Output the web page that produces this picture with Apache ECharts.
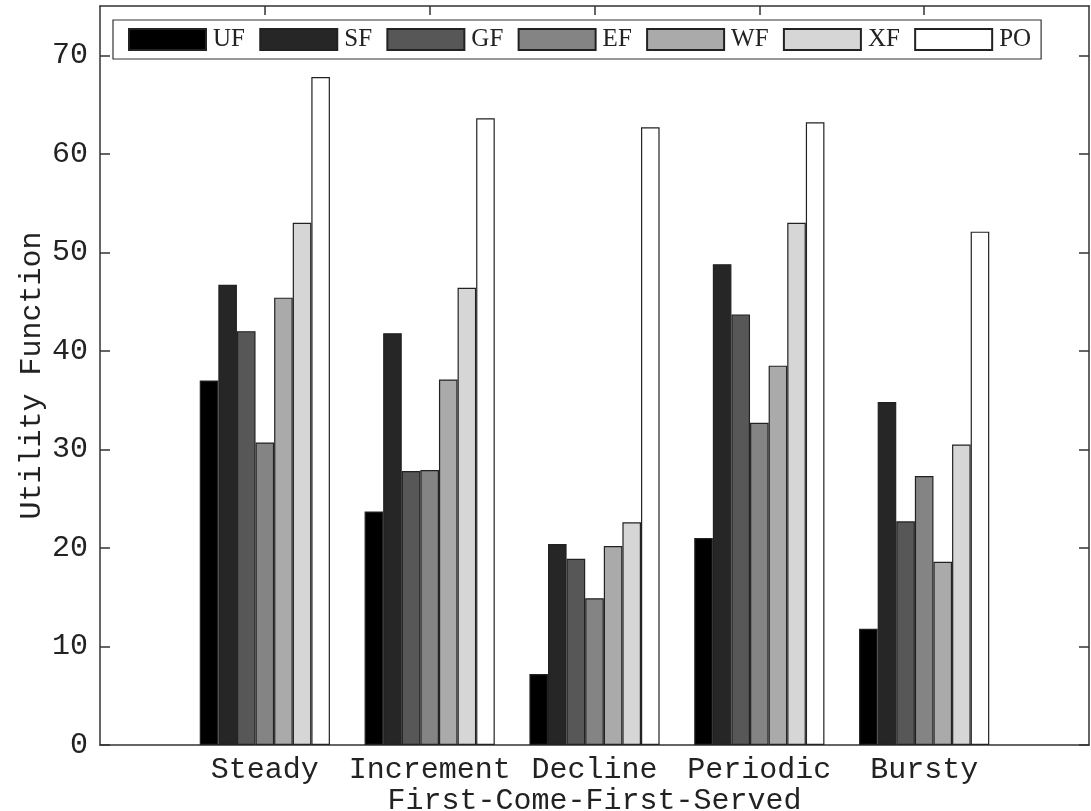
<!DOCTYPE html>
<html>
<head>
<meta charset="utf-8">
<script src="https://cdn.jsdelivr.net/npm/echarts@6/dist/echarts.min.js"></script>
<style>html,body{margin:0;padding:0;background:#fff}#c{width:1091px;height:811px}</style>
</head>
<body>
<div id="c"></div>
<script>
var categories = ['Steady', 'Increment', 'Decline', 'Periodic', 'Bursty'];
var seriesNames = ['UF', 'SF', 'GF', 'EF', 'WF', 'XF', 'PO'];
var UF = [37.0, 23.7, 7.2, 21.0, 11.8];
var SF = [46.7, 41.8, 20.4, 48.8, 34.8];
var GF = [42.0, 27.8, 18.9, 43.7, 22.7];
var EF = [30.7, 27.9, 14.9, 32.7, 27.3];
var WF = [45.4, 37.1, 20.2, 38.5, 18.6];
var XF = [53.0, 46.4, 22.6, 53.0, 30.5];
var PO = [67.8, 63.6, 62.7, 63.2, 52.1];
var yTicks = [0, 10, 20, 30, 40, 50, 60, 70];
var xTicks = [0, 1, 2, 3, 4];

var values = [UF, SF, GF, EF, WF, XF, PO];
var fills = ['#000000', '#262626', '#575757', '#848484', '#aaaaaa', '#d6d6d6', '#ffffff'];
var mono = '"Liberation Mono", "DejaVu Sans Mono", monospace';
var serif = '"Liberation Serif", "DejaVu Serif", serif';
var lineC = '#333';

var series = values.map(function (arr, i) {
  return {
    name: seriesNames[i],
    type: 'bar',
    barWidth: 18.6,
    barGap: '0%',
    xAxisIndex: 0,
    yAxisIndex: 0,
    itemStyle: { color: fills[i], borderColor: '#222', borderWidth: 1.2 },
    data: arr.map(function (v, j) { return [xTicks[j], v]; })
  };
});

var chart = echarts.init(document.getElementById('c'));
chart.setOption({
  animation: false,
  backgroundColor: '#fff',
  grid: { left: 100, right: 2, top: 6, bottom: 66, containLabel: false, outerBoundsMode: 'none' },
  legend: {
    data: seriesNames,
    icon: 'rect',
    left: 113,
    top: 20,
    orient: 'horizontal',
    itemWidth: 77,
    itemHeight: 21,
    itemGap: 14.3,
    padding: [7, 10, 7, 15],
    borderColor: lineC,
    borderWidth: 1.2,
    backgroundColor: '#fff',
    selectedMode: false,
    textStyle: { fontFamily: serif, fontSize: 25, color: '#222', width: 36, padding: [0, 0, 0, 2] }
  },
  xAxis: [
    {
      type: 'value', min: -1, max: 5, interval: 1, position: 'bottom',
      name: 'First-Come-First-Served', nameLocation: 'middle', nameGap: 41, nameMoveOverlap: false,
      nameTextStyle: { fontFamily: mono, fontSize: 30, color: '#222' },
      axisLine: { show: true, onZero: false, lineStyle: { color: lineC, width: 1.5 } },
      axisTick: { show: false },
      splitLine: { show: false },
      axisLabel: {
        customValues: xTicks, margin: 10,
        fontFamily: mono, fontSize: 30, color: '#222',
        formatter: function (v) { return categories[Math.round(v)] || ''; }
      }
    },
    {
      type: 'value', min: -1, max: 5, interval: 1, position: 'top',
      axisLine: { show: true, onZero: false, lineStyle: { color: lineC, width: 1.5 } },
      axisTick: { show: true, inside: true, length: 9, customValues: xTicks, lineStyle: { color: lineC, width: 1.5 } },
      axisLabel: { show: false },
      splitLine: { show: false }
    }
  ],
  yAxis: [
    {
      type: 'value', min: 0, max: 75, interval: 10, position: 'left',
      name: 'Utility Function', nameLocation: 'middle', nameGap: 53, nameRotate: 90, nameMoveOverlap: false,
      nameTextStyle: { fontFamily: mono, fontSize: 30, color: '#222' },
      axisLine: { show: true, onZero: false, lineStyle: { color: lineC, width: 1.5 } },
      axisTick: { show: true, inside: true, length: 10, customValues: yTicks, lineStyle: { color: lineC, width: 1.5 } },
      axisLabel: { customValues: yTicks, margin: 12, fontFamily: mono, fontSize: 30, color: '#222' },
      splitLine: { show: false }
    },
    {
      type: 'value', min: 0, max: 75, interval: 10, position: 'right',
      axisLine: { show: true, onZero: false, lineStyle: { color: lineC, width: 1.5 } },
      axisTick: { show: true, inside: true, length: 10, customValues: yTicks, lineStyle: { color: lineC, width: 1.5 } },
      axisLabel: { show: false },
      splitLine: { show: false }
    }
  ],
  series: series
});
</script>
</body>
</html>
